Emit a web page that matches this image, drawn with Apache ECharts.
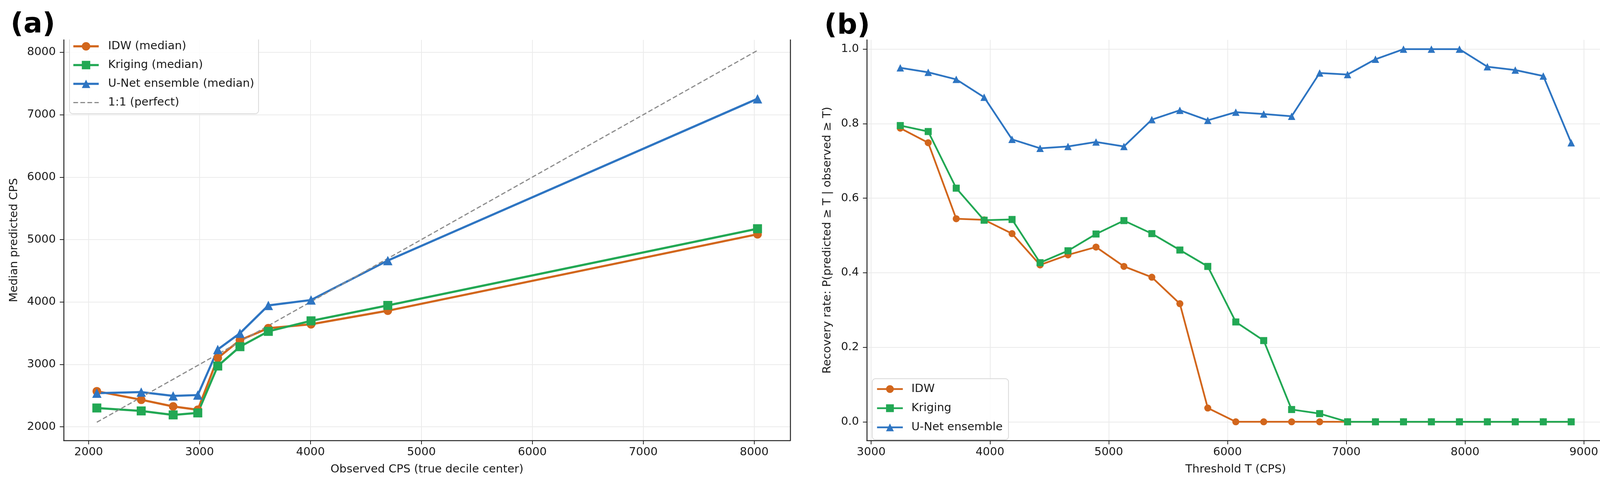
<!DOCTYPE html>
<html>
<head>
<meta charset="utf-8">
<title>Median prediction and recovery rate</title>
<script src="https://cdn.jsdelivr.net/npm/echarts@6/dist/echarts.min.js"></script>
<style>
    html, body { margin: 0; padding: 0; background: #fff; }
    #chart { width: 4132px; height: 1241px; }
</style>
</head>
<body>
<div id="chart"></div>
<script>
// (a) observed decile centers vs. median predicted CPS
const observedCenters = [2074, 2474, 2762, 2984, 3164, 3364, 3620, 4005, 4697, 8030];
const idwMedian       = [2570, 2434, 2327, 2273, 3103, 3388, 3581, 3643, 3860, 5085];
const krigingMedian   = [2302, 2255, 2191, 2223, 2974, 3284, 3529, 3698, 3945, 5174];
const unetMedian      = [2540, 2557, 2496, 2509, 3239, 3499, 3945, 4032, 4664, 7256];
const perfectEnds     = [2074, 8030];
const ticksAx = [2000, 3000, 4000, 5000, 6000, 7000, 8000];
const ticksAy = [2000, 3000, 4000, 5000, 6000, 7000, 8000];

// (b) recovery rate by threshold T
const thresholds = [3245, 3480, 3716, 3951, 4186, 4422, 4657, 4893, 5128, 5363, 5599, 5834,
                    6070, 6305, 6540, 6776, 7011, 7246, 7482, 7717, 7953, 8188, 8423, 8659, 8894];
const idwRecovery = [0.788, 0.749, 0.545, 0.542, 0.505, 0.421, 0.448, 0.469, 0.417, 0.388, 0.317, 0.037,
                     0, 0, 0, 0, 0, 0, 0, 0, 0, 0, 0, 0, 0];
const krigingRecovery = [0.795, 0.779, 0.627, 0.541, 0.543, 0.427, 0.459, 0.504, 0.540, 0.505, 0.461, 0.417,
                         0.268, 0.218, 0.033, 0.022, 0, 0, 0, 0, 0, 0, 0, 0, 0];
const unetRecovery = [0.950, 0.938, 0.919, 0.871, 0.758, 0.734, 0.739, 0.751, 0.739, 0.811, 0.836, 0.809,
                      0.831, 0.826, 0.820, 0.936, 0.932, 0.973, 1.0, 1.0, 1.0, 0.953, 0.944, 0.928, 0.749];
const ticksBx = [3000, 4000, 5000, 6000, 7000, 8000, 9000];
const ticksBy = [0, 0.2, 0.4, 0.6, 0.8, 1.0];

// 样式
const FONT = 'DejaVu Sans';
const TXT = '#1a1a1a';
const SPINE = '#262626';
const GRIDC = '#ebebeb';
const C_IDW = '#d2661c';
const C_KRIG = '#22a854';
const C_UNET = '#2e75c2';

const pairs = (xs, ys) => xs.map((x, i) => [x, ys[i]]);

function xAxisCfg(gridIndex, min, max, ticks, name) {
    return {
        type: 'value', gridIndex, min, max,
        name, nameLocation: 'middle', nameGap: 60,
        nameTextStyle: { fontFamily: FONT, fontSize: 29, color: TXT },
        axisLine: { show: true, onZero: false, lineStyle: { color: SPINE, width: 2.5 } },
        axisTick: { show: true, length: 10, customValues: ticks, lineStyle: { color: SPINE, width: 2 } },
        axisLabel: { customValues: ticks, formatter: v => String(v), fontFamily: FONT, fontSize: 29, color: TXT, margin: 16 },
        splitLine: { show: true, lineStyle: { color: GRIDC, width: 2 } }
    };
}

function yAxisCfg(gridIndex, min, max, ticks, name, nameGap, fmt) {
    return {
        type: 'value', gridIndex, min, max,
        name, nameLocation: 'middle', nameGap,
        nameTextStyle: { fontFamily: FONT, fontSize: 29, color: TXT },
        axisLine: { show: true, onZero: false, lineStyle: { color: SPINE, width: 2.5 } },
        axisTick: { show: true, length: 10, customValues: ticks, lineStyle: { color: SPINE, width: 2 } },
        axisLabel: { customValues: ticks, formatter: fmt, fontFamily: FONT, fontSize: 29, color: TXT, margin: 20 },
        splitLine: { show: true, lineStyle: { color: GRIDC, width: 2 } }
    };
}

// right-hand spine only
function rightSpine(gridIndex, min, max) {
    return {
        type: 'value', gridIndex, min, max, position: 'right',
        axisLine: { show: true, onZero: false, lineStyle: { color: SPINE, width: 2.5 } },
        axisTick: { show: false }, axisLabel: { show: false }, splitLine: { show: false }
    };
}

function lineSeries(name, data, xi, yi, symbol, size, color, width) {
    return {
        name, type: 'line', xAxisIndex: xi, yAxisIndex: yi, data,
        symbol, symbolSize: size, showAllSymbol: true,
        lineStyle: { color, width }, itemStyle: { color },
        emphasis: { disabled: true }
    };
}

const chart = echarts.init(document.getElementById('chart'));

const option = {
    animation: false,
    backgroundColor: '#fff',
    grid: [
        { left: 163, right: 4132 - 2023, top: 102, bottom: 1241 - 1127 },
        { left: 2219, right: 4132 - 4108, top: 102, bottom: 1241 - 1127 }
    ],
    xAxis: [
        xAxisCfg(0, 1775, 8325, ticksAx, 'Observed CPS (true decile center)'),
        xAxisCfg(1, 2963, 9176, ticksBx, 'Threshold T (CPS)')
    ],
    yAxis: [
        yAxisCfg(0, 1782, 8199, ticksAy, 'Median predicted CPS', 112, v => String(v)),
        rightSpine(0, 1782, 8199),
        yAxisCfg(1, -0.05, 1.025, ticksBy, 'Recovery rate: P(predicted \u2265 T | observed \u2265 T)', 86, v => v.toFixed(1)),
        rightSpine(1, -0.05, 1.025)
    ],
    legend: [
        {
            orient: 'vertical', left: 178, top: 90,
            data: [
                'IDW (median)', 'Kriging (median)', 'U-Net ensemble (median)',
                { name: '1:1 (perfect)', itemStyle: { opacity: 0 }, lineStyle: { width: 3 } }
            ],
            itemWidth: 65, itemHeight: 27, itemGap: 19,
            padding: [14, 11, 14, 7],
            lineStyle: { width: 5.5 },
            backgroundColor: 'rgba(255,255,255,0.85)', borderColor: '#d9d9d9', borderWidth: 2, borderRadius: 8,
            textStyle: { fontFamily: FONT, fontSize: 29, color: TXT, lineHeight: 27, padding: [0, 0, 0, 19] }
        },
        {
            orient: 'vertical', left: 2233, top: 969,
            data: ['IDW', 'Kriging', 'U-Net ensemble'],
            itemWidth: 66, itemHeight: 25, itemGap: 20,
            padding: [12, 15, 17, 10],
            lineStyle: { width: 4.5 },
            backgroundColor: 'rgba(255,255,255,0.85)', borderColor: '#d9d9d9', borderWidth: 2, borderRadius: 8,
            textStyle: { fontFamily: FONT, fontSize: 29, color: TXT, lineHeight: 25, padding: [0, 0, 0, 17] }
        }
    ],
    series: [
        lineSeries('IDW (median)', pairs(observedCenters, idwMedian), 0, 0, 'circle', 22, C_IDW, 5.5),
        lineSeries('Kriging (median)', pairs(observedCenters, krigingMedian), 0, 0, 'rect', 23, C_KRIG, 5.5),
        lineSeries('U-Net ensemble (median)', pairs(observedCenters, unetMedian), 0, 0, 'triangle', 24, C_UNET, 5.5),
        {
            name: '1:1 (perfect)', type: 'line', xAxisIndex: 0, yAxisIndex: 0,
            data: pairs(perfectEnds, perfectEnds), symbol: 'none',
            lineStyle: { color: '#8c8c8c', width: 3, type: [12, 6] }, itemStyle: { color: '#8c8c8c' },
            emphasis: { disabled: true }
        },
        lineSeries('IDW', pairs(thresholds, idwRecovery), 1, 2, 'circle', 18, C_IDW, 4.5),
        lineSeries('Kriging', pairs(thresholds, krigingRecovery), 1, 2, 'rect', 18, C_KRIG, 4.5),
        lineSeries('U-Net ensemble', pairs(thresholds, unetRecovery), 1, 2, 'triangle', 19, C_UNET, 4.5)
    ],
    graphic: [
        // 顶部裁切区域
        { type: 'rect', z: 100, shape: { x: 0, y: 0, width: 4132, height: 101 }, style: { fill: '#fff' }, silent: true },
        { type: 'text', z: 101, x: 27, y: 64, style: { text: '(a)', font: 'bold 72px "DejaVu Sans"', fill: '#000', verticalAlign: 'middle' } },
        { type: 'text', z: 101, x: 2110, y: 67, style: { text: '(b)', font: 'bold 72px "DejaVu Sans"', fill: '#000', verticalAlign: 'middle' } }
    ]
};

chart.setOption(option);

window.addEventListener('resize', () => chart.resize());
</script>
</body>
</html>
